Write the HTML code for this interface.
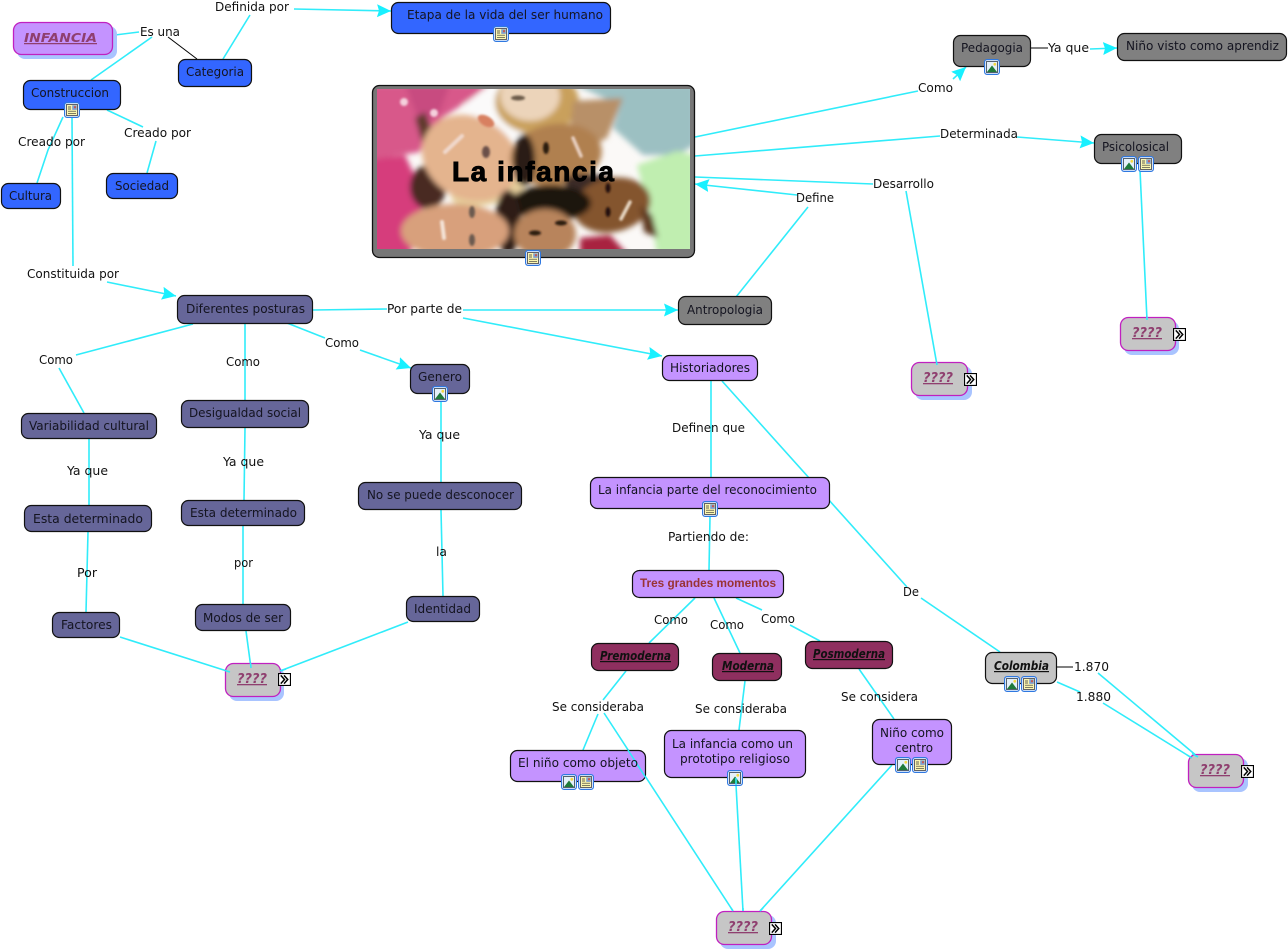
<!DOCTYPE html>
<html><head><meta charset="utf-8"><style>
html,body{margin:0;padding:0;background:#fff;width:1288px;height:950px;overflow:hidden}
svg{display:block}
text{font-family:"DejaVu Sans","Liberation Sans",sans-serif;font-size:12px;fill:#141420;text-anchor:start}
.l{fill:#111}
.e{stroke:#30ecfa;stroke-width:1.6;fill:none}
.k{stroke:#000;stroke-width:1;fill:none}
.n{stroke:#111;stroke-width:1.2}
.b{fill:#3366ff}.p{fill:#666699}.g{fill:#808080}.v{fill:#c493ff}.m{fill:#8f2f5f}
.q{font-weight:bold;font-style:italic;text-decoration:underline;fill:#8f3f6f}
.i{font-weight:bold;font-style:italic;text-decoration:underline;fill:#111}
</style></head><body>
<svg width="1288" height="950" viewBox="0 0 1288 950" xmlns="http://www.w3.org/2000/svg">
<defs>
<filter id="bl" x="-20%" y="-20%" width="140%" height="140%"><feGaussianBlur stdDeviation="2.800"/></filter>
<filter id="bs" x="-30%" y="-30%" width="160%" height="160%"><feGaussianBlur stdDeviation="1"/></filter>
<clipPath id="ph"><rect x="377" y="89" width="313" height="160"/></clipPath>
<marker id="a" markerWidth="16" markerHeight="14" refX="14" refY="6.500" orient="auto" markerUnits="userSpaceOnUse"><path d="M0 0L14 6.500L0 13L2 6.500z" fill="#18f0ff"/></marker>
<symbol id="doc" viewBox="0 0 16 16"><rect x=".6" y=".6" width="14.800" height="14.800" rx="2.500" fill="#fff" stroke="#2f78e0" stroke-width="1.200"/><rect x="2.500" y="2.500" width="11" height="11" fill="#fbf6b0" stroke="#223" stroke-width=".7"/><path d="M4 5h3M4 7h3M4 9.200h8M4 11.300h8" stroke="#333" stroke-width=".7"/><rect x="8.200" y="3.300" width="4.600" height="4.600" fill="#7fa0d0"/><rect x="10" y="4.200" width="2" height="2" fill="#c85a50"/></symbol>
<symbol id="pic" viewBox="0 0 16 16"><rect x=".6" y=".6" width="14.800" height="14.800" rx="2.500" fill="#fff" stroke="#2f78e0" stroke-width="1.200"/><rect x="2.500" y="2.500" width="11" height="11" fill="#e4f0fa" stroke="#123" stroke-width=".7"/><path d="M3 13L8 6.500L13 13z" fill="#1f7a3a"/><circle cx="10.800" cy="5.300" r="1.400" fill="#f5d840"/></symbol>
<symbol id="go" viewBox="0 0 14 14"><rect x=".6" y=".6" width="12.800" height="12.800" fill="#fff" stroke="#000" stroke-width="1.200"/><path d="M3 2.500L7 7L3 11.500M6.500 2.500L10.500 7L6.500 11.500" fill="none" stroke="#000" stroke-width="1.600"/></symbol>
</defs>

<!-- connectors -->
<g class="e">
<path d="M115 35L139 32"/><path d="M152 37L91 80"/><path d="M250 15L223 59"/>
<path d="M294 9L391 11" marker-end="url(#a)"/>
<path d="M63 117L48 150L37 183"/><path d="M107 110L143 127"/><path d="M156 141L147 173"/>
<path d="M72 118L73 266"/><path d="M107 282L176 296" marker-end="url(#a)"/>
<path d="M313 310L387 309"/><path d="M463 310L678 310" marker-end="url(#a)"/><path d="M463 318L662 356" marker-end="url(#a)"/>
<path d="M193 324L76 355"/><path d="M59 368L84 413"/>
<path d="M245 324V400"/><path d="M287 323L325 338"/><path d="M360 350L411 368" marker-end="url(#a)"/>
<path d="M89 439V505"/><path d="M88 532L86 612"/><path d="M245 428L244 500"/><path d="M243 526V604"/>
<path d="M246 631L251 668"/><path d="M120 637L230 672"/><path d="M408 622L280 671"/>
<path d="M441 400V482"/><path d="M441 510L443 596"/>
<path d="M736 297L808 207"/><path d="M797 195L695 184" marker-end="url(#a)"/>
<path d="M695 177L873 184"/><path d="M906 191L937 365"/>
<path d="M695 137L918 91"/><path d="M953 79L966 67" marker-end="url(#a)"/>
<path d="M695 156L940 136"/><path d="M1017 137L1094 143" marker-end="url(#a)"/>
<path d="M1090 49L1117 48" marker-end="url(#a)"/>
<path d="M1140 170L1147 320"/>
<path d="M711 381V477"/><path d="M722 381L907 587"/><path d="M921 598L1000 652"/>
<path d="M710 517L709 570"/>
<path d="M695 598L649 643"/><path d="M714 598L740 653"/><path d="M736 598L762 610"/><path d="M790 625L820 641"/>
<path d="M626 671L603 700"/><path d="M598 714L583 750"/><path d="M604 713L733 911"/>
<path d="M745 681L739 730"/><path d="M736 785L743 911"/>
<path d="M859 669L894 719"/><path d="M892 765L760 911"/>
<path d="M1098 673L1198 757"/><path d="M1057 682L1080 692"/><path d="M1103 703L1192 758"/>
</g>
<g class="k"><path d="M168 37L197 59"/><path d="M1031 48H1048"/><path d="M1057 667H1073"/></g>

<!-- main image node -->
<rect x="372.500" y="85.500" width="322" height="172" rx="7" fill="#777" stroke="#111" stroke-width="1.300"/>
<g clip-path="url(#ph)">
<rect x="377" y="89" width="313" height="160" fill="#fbf9f7"/>
<g filter="url(#bl)">
<path d="M370 84H490L468 101L442 118L425 138L420 152L395 156L370 162z" fill="#d8588a"/>
<path d="M405 84L450 84L440 112L420 125z" fill="#c84c80"/>
<path d="M415 118L425 112L432 130L422 142z" fill="#5e3a2a"/>
<path d="M462 105L488 88L508 88L528 131L512 138L492 128z" fill="#fbfafa"/>
<path d="M370 160L405 155L425 198L410 255H370z" fill="#d63e7c"/>
<ellipse cx="428" cy="187" rx="18" ry="22" fill="#4a2a20"/>
<ellipse cx="490" cy="188" rx="40" ry="16" transform="rotate(-15 490 188)" fill="#e6cf9c"/>
<ellipse cx="470" cy="158" rx="50" ry="41" transform="rotate(28 470 158)" fill="#e4b48e"/>
<ellipse cx="537" cy="102" rx="42" ry="32" fill="#c9a05c"/>
<ellipse cx="530" cy="96" rx="30" ry="25" fill="#ecd4ba"/>
<path d="M573 84H695V145L677 155L643 155L613 128L620 105z" fill="#9cc0c2"/>
<path d="M573 101L623 98L607 138L593 145L570 131z" fill="#b89068"/>
<ellipse cx="556" cy="155" rx="46" ry="31" transform="rotate(-8 556 155)" fill="#b08050"/>
<ellipse cx="524" cy="160" rx="11" ry="26" fill="#2a1a14"/>
<path d="M637 165L677 151L695 155V255H657L650 211L643 188z" fill="#c0eeb0"/>
<ellipse cx="600" cy="186" rx="36" ry="11" transform="rotate(8 600 186)" fill="#3a2a28"/>
<ellipse cx="612" cy="205" rx="39" ry="27" transform="rotate(-12 612 205)" fill="#84542f"/>
<path d="M640 205L652 215L658 238L644 232z" fill="#5e3a20"/>
<ellipse cx="551" cy="203" rx="40" ry="18" fill="#1e120d"/>
<ellipse cx="508" cy="222" rx="13" ry="32" fill="#2d1c16"/>
<ellipse cx="455" cy="231" rx="54" ry="27" fill="#d8a07c"/>
<ellipse cx="545" cy="234" rx="31" ry="25" fill="#b8845c"/>
<path d="M580 255V238L610 235L628 255z" fill="#a82040"/>
</g>
<g filter="url(#bs)">
<path d="M445 152L462 136" stroke="#f0d8cc" stroke-width="4" stroke-linecap="round"/>
<path d="M621 219L630 202" stroke="#e8d8c4" stroke-width="3.500" stroke-linecap="round"/>
<path d="M573 138L581 156" stroke="#e8cfc0" stroke-width="3.500" stroke-linecap="round"/>
<path d="M442 222L444 238" stroke="#f4e4d8" stroke-width="4" stroke-linecap="round"/>
<ellipse cx="486" cy="152" rx="4" ry="6" fill="#6a5048"/><ellipse cx="518" cy="98" rx="7" ry="2.500" fill="#6a5a4a"/>
<ellipse cx="472" cy="212" rx="3" ry="6" fill="#6a5a50"/><ellipse cx="472" cy="240" rx="3" ry="6" fill="#6a5a50"/>
<ellipse cx="546" cy="148" rx="3" ry="6" fill="#2a1a10"/><ellipse cx="608" cy="212" rx="2.500" ry="5" fill="#201008"/><ellipse cx="608" cy="188" rx="2.500" ry="5" fill="#201008"/>
<ellipse cx="535" cy="233" rx="6" ry="2.500" fill="#2a1a10"/><ellipse cx="561" cy="223" rx="6" ry="2.500" fill="#2a1a10"/>
<circle cx="404" cy="102" r="4" fill="#f4d0dc"/><circle cx="434" cy="113" r="4" fill="#f4d0dc"/>
<ellipse cx="486" cy="121" rx="9" ry="5" transform="rotate(30 486 121)" fill="#d88060"/>
</g>
</g>
<text x="452" y="181" textLength="162" lengthAdjust="spacing" style='font-family:"Liberation Sans",sans-serif;font-size:28px;font-weight:bold;fill:#000;stroke:#000;stroke-width:.9'>La infancia</text>

<!-- nodes -->
<rect x="17" y="26" width="100" height="33" rx="8" fill="#a9c4ff"/>
<rect x="13.500" y="22.500" width="99" height="32" rx="8" class="v" stroke="#c020c0" stroke-width="1.300"/>
<g class="n">
<rect x="23.500" y="80.500" width="97" height="29" rx="7" class="b"/>
<rect x="178.500" y="59.500" width="73" height="27" rx="7" class="b"/>
<rect x="391.500" y="2.500" width="219" height="31" rx="7" class="b"/>
<rect x="1.500" y="183.500" width="59" height="25" rx="7" class="b"/>
<rect x="106.500" y="173.500" width="71" height="25" rx="7" class="b"/>
<rect x="177.500" y="295.500" width="135" height="28" rx="7" class="p"/>
<rect x="678.500" y="296.500" width="93" height="28" rx="7" class="g"/>
<rect x="662.500" y="355.500" width="95" height="25" rx="7" class="v"/>
<rect x="410.500" y="364.500" width="59" height="29" rx="7" class="p"/>
<rect x="21.500" y="413.500" width="135" height="25" rx="7" class="p"/>
<rect x="181.500" y="400.500" width="127" height="27" rx="7" class="p"/>
<rect x="24.500" y="505.500" width="127" height="26" rx="7" class="p"/>
<rect x="181.500" y="500.500" width="123" height="25" rx="7" class="p"/>
<rect x="358.500" y="482.500" width="163" height="27" rx="7" class="p"/>
<rect x="52.500" y="612.500" width="67" height="25" rx="7" class="p"/>
<rect x="195.500" y="604.500" width="95" height="26" rx="7" class="p"/>
<rect x="406.500" y="596.500" width="73" height="25" rx="7" class="p"/>
<rect x="590.500" y="477.500" width="239" height="31" rx="7" class="v"/>
<rect x="632.500" y="570.500" width="151" height="27" rx="7" class="v"/>
<rect x="591.500" y="643.500" width="87" height="27" rx="7" class="m"/>
<rect x="712.500" y="653.500" width="69" height="27" rx="7" class="m"/>
<rect x="805.500" y="641.500" width="87" height="27" rx="7" class="m"/>
<rect x="510.500" y="750.500" width="135" height="31" rx="7" class="v"/>
<rect x="664.500" y="730.500" width="141" height="47" rx="7" class="v"/>
<rect x="872.500" y="719.500" width="79" height="45" rx="7" class="v"/>
<rect x="985.500" y="652.500" width="71" height="31" rx="7" fill="#c4c4c4"/>
<rect x="953.500" y="35.500" width="77" height="31" rx="7" class="g"/>
<rect x="1117.500" y="33.500" width="169" height="27" rx="7" class="g"/>
<rect x="1094.500" y="134.500" width="87" height="29" rx="7" class="g"/>
</g>

<!-- ???? nodes -->
<g fill="#a9c4ff">
<rect x="229" y="667" width="55" height="34" rx="8"/><rect x="915" y="366" width="57" height="34" rx="8"/>
<rect x="1124" y="321" width="55" height="34" rx="8"/><rect x="1192" y="758" width="56" height="34" rx="8"/>
<rect x="720" y="915" width="56" height="34" rx="8"/>
</g>
<g fill="#c6c6c6" stroke="#c020c0" stroke-width="1.300">
<rect x="225.500" y="663.500" width="55" height="33" rx="8"/><rect x="911.500" y="362.500" width="56" height="33" rx="8"/>
<rect x="1120.500" y="317.500" width="55" height="33" rx="8"/><rect x="1188.500" y="754.500" width="55" height="33" rx="8"/>
<rect x="716.500" y="911.500" width="55" height="33" rx="8"/>
</g>
<use href="#go" x="278" y="673" width="13" height="13"/><use href="#go" x="964" y="373" width="13" height="13"/>
<use href="#go" x="1173" y="328" width="13" height="13"/><use href="#go" x="1241" y="765" width="13" height="13"/>
<use href="#go" x="769" y="922" width="13" height="13"/>

<!-- line ends drawn above nodes -->
<g class="e">
<path d="M628 750L646 778"/>
<path d="M250.500 663L251 668"/><path d="M225 670.500L230 672"/><path d="M286 669L280 671"/>
<path d="M936.500 362L937 365"/><path d="M1147 317L1147 320"/>
<path d="M1192 753.500L1198 757"/><path d="M1187 755L1192 758"/>
<path d="M731 908L733 911"/><path d="M743 908L743 911"/><path d="M763 908L760 911"/>
</g>

<!-- icons -->
<use href="#doc" x="493" y="26" width="16" height="16"/>
<use href="#doc" x="64" y="102" width="16" height="16"/>
<use href="#doc" x="525" y="250" width="16" height="16"/>
<use href="#pic" x="984" y="59" width="16" height="16"/>
<use href="#pic" x="1121" y="156" width="16" height="16"/><use href="#doc" x="1138" y="156" width="16" height="16"/>
<use href="#pic" x="432" y="386" width="16" height="16"/>
<use href="#doc" x="702" y="501" width="16" height="16"/>
<use href="#pic" x="561" y="774" width="16" height="16"/><use href="#doc" x="578" y="774" width="16" height="16"/>
<use href="#pic" x="727" y="770" width="16" height="16"/>
<use href="#pic" x="895" y="757" width="16" height="16"/><use href="#doc" x="912" y="757" width="16" height="16"/>
<use href="#pic" x="1004" y="676" width="16" height="16"/><use href="#doc" x="1021" y="676" width="16" height="16"/>
<path class="e" d="M736 778L736 785"/>

<!-- node text -->
<g>
<text x="24" y="42" textLength="73" lengthAdjust="spacingAndGlyphs" class="q" style="font-size:12.500px">INFANCIA </text>
<text x="31" y="97" textLength="78" lengthAdjust="spacingAndGlyphs">Construccion</text>
<text x="186" y="76" textLength="58" lengthAdjust="spacingAndGlyphs">Categoria</text>
<text x="407" y="19" textLength="196" lengthAdjust="spacingAndGlyphs">Etapa de la vida del ser humano</text>
<text x="9" y="200" textLength="43" lengthAdjust="spacingAndGlyphs">Cultura</text>
<text x="115" y="190" textLength="54" lengthAdjust="spacingAndGlyphs">Sociedad</text>
<text x="186" y="313" textLength="119" lengthAdjust="spacingAndGlyphs">Diferentes posturas</text>
<text x="687" y="314" textLength="76" lengthAdjust="spacingAndGlyphs">Antropologia</text>
<text x="670" y="372" textLength="80" lengthAdjust="spacingAndGlyphs">Historiadores</text>
<text x="418" y="381" textLength="44" lengthAdjust="spacingAndGlyphs">Genero</text>
<text x="29" y="430" textLength="120" lengthAdjust="spacingAndGlyphs">Variabilidad cultural</text>
<text x="189" y="417" textLength="112" lengthAdjust="spacingAndGlyphs">Desigualdad social</text>
<text x="33" y="523" textLength="110" lengthAdjust="spacingAndGlyphs">Esta determinado</text>
<text x="190" y="517" textLength="107" lengthAdjust="spacingAndGlyphs">Esta determinado</text>
<text x="367" y="499" textLength="147" lengthAdjust="spacingAndGlyphs">No se puede desconocer</text>
<text x="61" y="629" textLength="51" lengthAdjust="spacingAndGlyphs">Factores</text>
<text x="203" y="622" textLength="80" lengthAdjust="spacingAndGlyphs">Modos de ser</text>
<text x="414" y="613" textLength="57" lengthAdjust="spacingAndGlyphs">Identidad</text>
<text x="598" y="494" textLength="219" lengthAdjust="spacingAndGlyphs">La infancia parte del reconocimiento</text>
<text x="640" y="587" textLength="136" lengthAdjust="spacingAndGlyphs" style='font-family:"Liberation Sans",sans-serif;font-size:11.500px;font-weight:bold;fill:#993333'>Tres grandes momentos</text>
<text x="600" y="660" textLength="71" lengthAdjust="spacingAndGlyphs" class="i" style="font-size:12px">Premoderna</text>
<text x="722" y="670" textLength="52" lengthAdjust="spacingAndGlyphs" class="i" style="font-size:12px">Moderna</text>
<text x="813" y="658" textLength="72" lengthAdjust="spacingAndGlyphs" class="i" style="font-size:12px">Posmoderna</text>
<text x="518" y="767" textLength="120" lengthAdjust="spacingAndGlyphs">El niño como objeto</text>
<text x="672" y="748" textLength="121" lengthAdjust="spacingAndGlyphs">La infancia como un</text>
<text x="680" y="763" textLength="110" lengthAdjust="spacingAndGlyphs">prototipo religioso</text>
<text x="880" y="737" textLength="64" lengthAdjust="spacingAndGlyphs">Niño como</text>
<text x="895" y="752" textLength="38" lengthAdjust="spacingAndGlyphs">centro</text>
<text x="994" y="670" textLength="55" lengthAdjust="spacingAndGlyphs" class="i" style="font-size:12px">Colombia</text>
<text x="961" y="52" textLength="62" lengthAdjust="spacingAndGlyphs">Pedagogia</text>
<text x="1126" y="50" textLength="153" lengthAdjust="spacingAndGlyphs">Niño visto como aprendiz</text>
<text x="1102" y="151" textLength="67" lengthAdjust="spacingAndGlyphs">Psicolosical</text>
<text x="237" y="683" textLength="30" lengthAdjust="spacingAndGlyphs" class="q" style="font-size:13px">????</text>
<text x="923" y="382" textLength="30" lengthAdjust="spacingAndGlyphs" class="q" style="font-size:13px">????</text>
<text x="1132" y="337" textLength="30" lengthAdjust="spacingAndGlyphs" class="q" style="font-size:13px">????</text>
<text x="1200" y="774" textLength="30" lengthAdjust="spacingAndGlyphs" class="q" style="font-size:13px">????</text>
<text x="728" y="931" textLength="30" lengthAdjust="spacingAndGlyphs" class="q" style="font-size:13px">????</text>
</g>

<!-- connector labels -->
<g>
<text class="l" x="140" y="36" textLength="40" lengthAdjust="spacingAndGlyphs">Es una</text>
<text class="l" x="215" y="11" textLength="74" lengthAdjust="spacingAndGlyphs">Definida por</text>
<text class="l" x="18" y="146" textLength="67" lengthAdjust="spacingAndGlyphs">Creado por</text>
<text class="l" x="124" y="137" textLength="67" lengthAdjust="spacingAndGlyphs">Creado por</text>
<text class="l" x="27" y="278" textLength="92" lengthAdjust="spacingAndGlyphs">Constituida por</text>
<text class="l" x="387" y="313" textLength="75" lengthAdjust="spacingAndGlyphs">Por parte de</text>
<text class="l" x="39" y="364" textLength="34" lengthAdjust="spacingAndGlyphs">Como</text>
<text class="l" x="226" y="366" textLength="34" lengthAdjust="spacingAndGlyphs">Como</text>
<text class="l" x="325" y="347" textLength="34" lengthAdjust="spacingAndGlyphs">Como</text>
<text class="l" x="67" y="475" textLength="41" lengthAdjust="spacingAndGlyphs">Ya que</text>
<text class="l" x="223" y="466" textLength="41" lengthAdjust="spacingAndGlyphs">Ya que</text>
<text class="l" x="419" y="439" textLength="41" lengthAdjust="spacingAndGlyphs">Ya que</text>
<text class="l" x="77" y="577" textLength="20" lengthAdjust="spacingAndGlyphs">Por</text>
<text class="l" x="234" y="567" textLength="19" lengthAdjust="spacingAndGlyphs">por</text>
<text class="l" x="436" y="556" textLength="11" lengthAdjust="spacingAndGlyphs">la</text>
<text class="l" x="672" y="432" textLength="73" lengthAdjust="spacingAndGlyphs">Definen que</text>
<text class="l" x="668" y="541" textLength="81" lengthAdjust="spacingAndGlyphs">Partiendo de:</text>
<text class="l" x="654" y="624" textLength="34" lengthAdjust="spacingAndGlyphs">Como</text>
<text class="l" x="710" y="629" textLength="34" lengthAdjust="spacingAndGlyphs">Como</text>
<text class="l" x="761" y="623" textLength="34" lengthAdjust="spacingAndGlyphs">Como</text>
<text class="l" x="552" y="711" textLength="92" lengthAdjust="spacingAndGlyphs">Se consideraba</text>
<text class="l" x="695" y="713" textLength="92" lengthAdjust="spacingAndGlyphs">Se consideraba</text>
<text class="l" x="841" y="701" textLength="77" lengthAdjust="spacingAndGlyphs">Se considera</text>
<text class="l" x="903" y="596" textLength="16" lengthAdjust="spacingAndGlyphs">De</text>
<text class="l" x="1074" y="671" textLength="35" lengthAdjust="spacingAndGlyphs">1.870</text>
<text class="l" x="1076" y="701" textLength="35" lengthAdjust="spacingAndGlyphs">1.880</text>
<text class="l" x="796" y="202" textLength="38" lengthAdjust="spacingAndGlyphs">Define</text>
<text class="l" x="873" y="188" textLength="61" lengthAdjust="spacingAndGlyphs">Desarrollo</text>
<text class="l" x="918" y="92" textLength="35" lengthAdjust="spacingAndGlyphs">Como</text>
<text class="l" x="940" y="138" textLength="78" lengthAdjust="spacingAndGlyphs">Determinada</text>
<text class="l" x="1048" y="52" textLength="41" lengthAdjust="spacingAndGlyphs">Ya que</text>
</g>
</svg>
</body></html>
